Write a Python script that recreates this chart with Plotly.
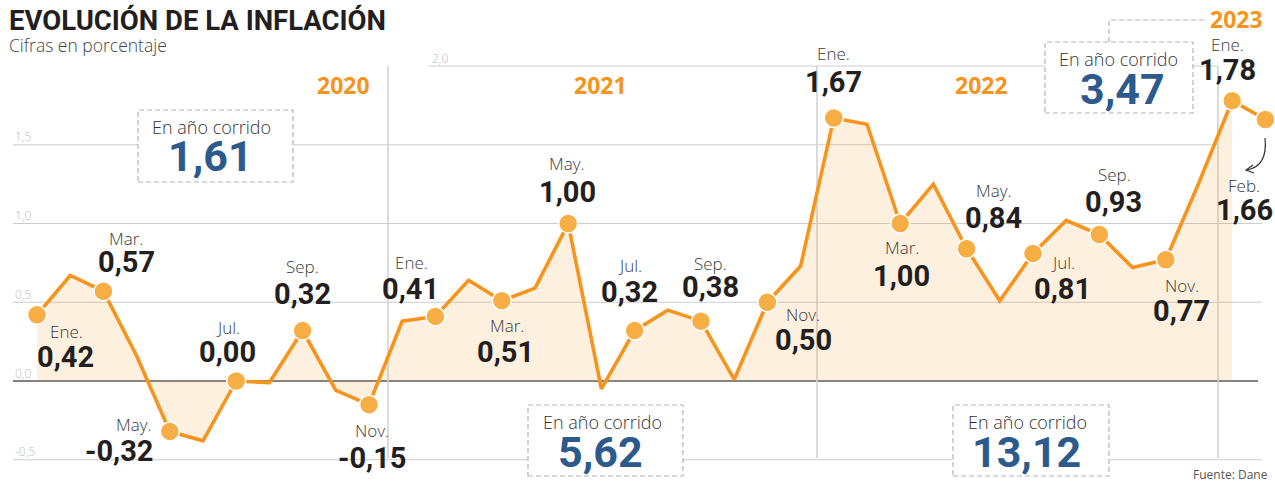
import plotly.graph_objects as go

# ---------------- DATA ----------------
months = ["Ene.", "Feb.", "Mar.", "Abr.", "May.", "Jun.", "Jul.", "Ago.", "Sep.", "Oct.", "Nov.", "Dic."] * 3 + ["Ene.", "Feb."]
values = [0.42, 0.67, 0.57, 0.16, -0.32, -0.38, 0.00, -0.01, 0.32, -0.06, -0.15, 0.38,
          0.41, 0.64, 0.51, 0.59, 1.00, -0.05, 0.32, 0.45, 0.38, 0.01, 0.50, 0.73,
          1.67, 1.63, 1.00, 1.25, 0.84, 0.51, 0.81, 1.02, 0.93, 0.72, 0.77, 1.26,
          1.78, 1.66]
labeled_idx = [0, 2, 4, 6, 8, 10, 12, 14, 16, 18, 20, 22, 24, 26, 28, 30, 32, 34, 36, 37]
years = ["2020", "2021", "2022", "2023"]
ytd_values = ["1,61", "5,62", "13,12", "3,47"]
ytd_caption = "En año corrido"
tick_vals = [-0.5, 0.0, 0.5, 1.0, 1.5, 2.0]
title = "EVOLUCIÓN DE LA INFLACIÓN"
subtitle = "Cifras en porcentaje"
source = "Fuente: Dane"

# ---------------- LAYOUT GEOMETRY ----------------
W, H = 1275, 482
X0_PX, STEP = 37.0, 33.2          # pixel of first month, pixels per month
Y0_PX, UNIT = 381.0, 157.5        # pixel of zero, pixels per percentage point
xr = [-X0_PX / STEP, (W - X0_PX) / STEP]
yr = [-(H - Y0_PX) / UNIT, Y0_PX / UNIT]

def PX(p):
    return p / W

def PY(p):
    return 1 - p / H

def fmt(v):
    return f"{v:.2f}".replace(".", ",")

ORANGE = "#f7941d"
DOT = "#f7ae45"
FILL = "rgba(247,148,29,0.14)"
GRID = "#cdcdcd"
BLUE = "#2c5a8c"
DARK = "#231f20"
MONTHC = "#3a3a3a"
NARROW = "Roboto, Liberation Sans Narrow, sans-serif"
SANS = "Open Sans, Noto Sans, sans-serif"

# label offsets (pixels) relative to each labelled point: month dx, dy, value dx, dy
label_off = {
    0: (29, 17, 28, 42), 2: (23, -53, 23, -29), 4: (-36, -7, -51, 20),
    6: (-8, -54, -9, -29), 8: (0, -64, 0, -37), 10: (3, 26, 3, 53),
    12: (-24, -54, -25, -27), 14: (5, 25, 4, 51), 16: (-1, -60, -1, -32),
    18: (-5, -65, -5, -39), 20: (9, -58, 9, -34), 22: (36, 12, 36, 38),
    24: (0, -64, 0, -36), 26: (2, 24, 1, 52), 28: (27, -58, 27, -31),
    30: (30, 9, 29, 36), 32: (15, -60, 14, -33), 34: (16, 26, 16, 51),
    36: (-5, -56, -5, -31), 37: (-21, 66, -21, 90),
}

xs = list(range(len(values)))

fig = go.Figure()
# fill (Jan 2020 - Jan 2023)
fig.add_trace(go.Scatter(x=xs[:37], y=values[:37], mode="lines", fill="tozeroy",
                         fillcolor=FILL, line=dict(width=0, color=FILL),
                         hoverinfo="skip"))
# line
fig.add_trace(go.Scatter(x=xs, y=values, mode="lines",
                         line=dict(color=ORANGE, width=3.6), hoverinfo="skip"))
# dots
fig.add_trace(go.Scatter(x=[xs[i] for i in labeled_idx], y=[values[i] for i in labeled_idx],
                         mode="markers",
                         marker=dict(size=19, color=DOT, line=dict(color="white", width=1.5)),
                         hoverinfo="skip", cliponaxis=False))

shapes = []
# horizontal gridlines
grid_ext = {-0.5: (13, 1262), 0.5: (13, 1262), 1.0: (13, 1262), 1.5: (13, 1218), 2.0: (428, 1218)}
for t in tick_vals:
    if t == 0.0:
        shapes.append(dict(type="line", xref="paper", yref="y", x0=PX(13), x1=PX(1258), y0=0, y1=0,
                           line=dict(color="#5a5a5a", width=1.5), layer="below"))
    else:
        a, b = grid_ext[t]
        shapes.append(dict(type="line", xref="paper", yref="y", x0=PX(a), x1=PX(b), y0=t, y1=t,
                           line=dict(color=GRID, width=1.2), layer="below"))
# year separators
for xp in (388, 817, 1218):
    shapes.append(dict(type="line", xref="paper", yref="y", x0=PX(xp), x1=PX(xp), y0=2.0, y1=-0.49,
                       line=dict(color="#d3d3d3", width=1.6), layer="below"))
# dashed boxes
boxes = [(138, 110, 293, 182), (528, 405, 683, 476), (953, 405, 1109, 476), (1045, 42, 1193, 113)]
for (a, b, c, d) in boxes:
    shapes.append(dict(type="rect", xref="paper", yref="paper", x0=PX(a), x1=PX(c), y0=PY(d), y1=PY(b),
                       fillcolor="white", line=dict(color="#b5b5b5", width=1.2, dash="5px,3px"),
                       layer="below"))
# dashed connector to 2023
shapes.append(dict(type="path", xref="paper", yref="paper",
                   path=f"M {PX(1109)},{PY(42)} L {PX(1109)},{PY(20)} L {PX(1205)},{PY(20)}",
                   line=dict(color="#b5b5b5", width=1.2, dash="5px,3px")))
# curved arrow for Feb 2023
sx = 3
shapes.append(dict(type="path", xref="paper", yref="paper",
                   path=f"M {PX(1262+sx)},{PY(138)} Q {PX(1265+sx)},{PY(166)} {PX(1244+sx)},{PY(170)}",
                   line=dict(color="#333333", width=1.2)))
shapes.append(dict(type="path", xref="paper", yref="paper",
                   path=f"M {PX(1250+sx)},{PY(165)} L {PX(1243+sx)},{PY(170)} L {PX(1251+sx)},{PY(173)}",
                   line=dict(color="#333333", width=1.2)))

ann = []
# point labels
for i in labeled_idx:
    dxm, dym, dxv, dyv = label_off[i]
    ann.append(dict(x=xs[i], y=values[i], xref="x", yref="y", text=months[i], showarrow=False,
                    xshift=dxm, yshift=-dym, xanchor="center", yanchor="middle",
                    font=dict(family=SANS, size=17, color=MONTHC, weight=300)))
    ann.append(dict(x=xs[i], y=values[i], xref="x", yref="y", text=fmt(values[i]),
                    showarrow=False, xshift=dxv, yshift=-dyv, xanchor="center", yanchor="middle",
                    font=dict(family=NARROW, size=29, color=DARK, weight=700)))
# tick labels
for t in tick_vals:
    xp = 430 if t == 2.0 else 13
    ann.append(dict(x=PX(xp), y=t, xref="paper", yref="y", text=f"{t:.1f}".replace(".", ","),
                    showarrow=False, xanchor="left", yanchor="middle", yshift=8,
                    font=dict(family=SANS, size=12, color="#bcbcbc", weight=300)))
# year labels
for yl, (cx, cy) in zip(years, [(343, 85), (600, 85), (982, 85), (1236, 19)]):
    ann.append(dict(x=PX(cx), y=PY(cy), xref="paper", yref="paper", text=yl,
                    showarrow=False, xanchor="center", yanchor="middle",
                    font=dict(family=SANS, size=23, color=ORANGE, weight=700)))
# year-to-date boxes text
box_txt = [((211, 127), (210, 156)), ((602, 422), (600, 452)), ((1027, 422), (1026, 452)), ((1118, 59), (1122, 89))]
for v, ((tx, ty), (nx, ny)) in zip(ytd_values, box_txt):
    ann.append(dict(x=PX(tx), y=PY(ty), xref="paper", yref="paper", text=ytd_caption, showarrow=False,
                    xanchor="center", yanchor="middle", borderpad=0,
                    font=dict(family=SANS, size=18, color="#333333", weight=300)))
    ann.append(dict(x=PX(nx), y=PY(ny), xref="paper", yref="paper", text=v, showarrow=False,
                    xanchor="center", yanchor="middle", borderpad=0,
                    font=dict(family=NARROW, size=43, color=BLUE, weight=700)))
# title, subtitle, source
ann.append(dict(x=PX(7), y=PY(21), xref="paper", yref="paper", text=title, showarrow=False,
                xanchor="left", yanchor="middle", font=dict(family=NARROW, size=27.5, color=DARK, weight=700)))
ann.append(dict(x=PX(7), y=PY(45), xref="paper", yref="paper", text=subtitle, showarrow=False,
                xanchor="left", yanchor="middle", font=dict(family=SANS, size=17.5, color="#444444", weight=300)))
ann.append(dict(x=PX(1269), y=PY(474), xref="paper", yref="paper", text=source, showarrow=False,
                xanchor="right", yanchor="middle", borderpad=0,
                font=dict(family=SANS, size=12, color="#555555")))

fig.update_layout(
    width=W, height=H, margin=dict(l=0, r=0, t=0, b=0),
    paper_bgcolor="white", plot_bgcolor="white", showlegend=False,
    xaxis=dict(range=xr, visible=False, fixedrange=True),
    yaxis=dict(range=yr, visible=False, fixedrange=True),
    shapes=shapes, annotations=ann, hovermode=False,
)

fig.write_html("out.html", config={"displayModeBar": False},
               post_script="document.body.style.margin='0';document.body.style.padding='0';document.body.style.overflow='hidden';")
